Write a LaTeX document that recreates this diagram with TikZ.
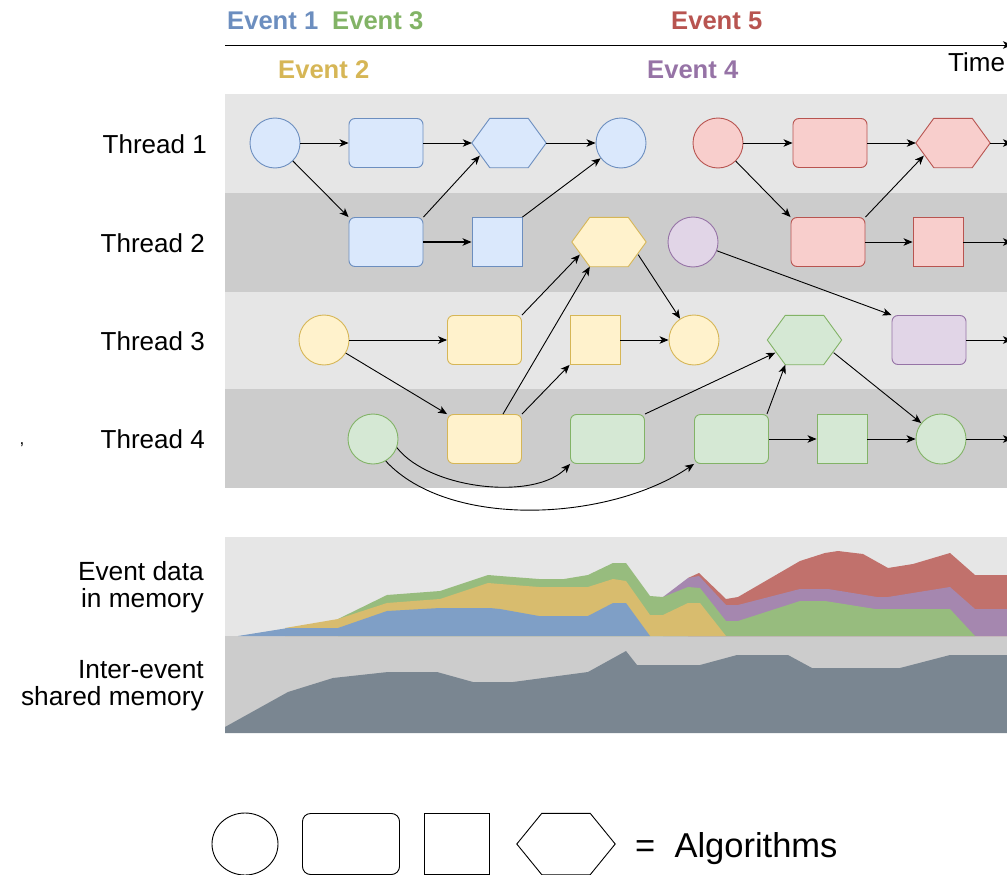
\documentclass[tikz,border=0pt]{standalone}
\usepackage{fontspec}
\setmainfont{Liberation Sans}
\usetikzlibrary{arrows.meta,shapes.geometric}
\definecolor{bfill}{HTML}{DAE8FC}\definecolor{bline}{HTML}{6C8EBF}
\definecolor{yfill}{HTML}{FFF2CC}\definecolor{yline}{HTML}{D6B656}
\definecolor{rfill}{HTML}{F8CECC}\definecolor{rline}{HTML}{B85450}
\definecolor{gfill}{HTML}{D5E8D4}\definecolor{gline}{HTML}{82B366}
\definecolor{pfill}{HTML}{E1D5E7}\definecolor{pline}{HTML}{9673A6}
\definecolor{bandA}{HTML}{E6E6E6}\definecolor{bandB}{HTML}{CCCCCC}
\definecolor{mblue}{HTML}{7F9FC6}\definecolor{myellow}{HTML}{D8BC6E}
\definecolor{mgreen}{HTML}{97BC7E}\definecolor{mpurple}{HTML}{A587AF}
\definecolor{mred}{HTML}{C1716C}\definecolor{mgray}{HTML}{7A8691}
\newcommand\hexout[3]{\filldraw[fill=#2,draw=#3,line width=0.9pt,line join=round] (#1.west) -- ([xshift=18pt]#1.north west) -- ([xshift=-18pt]#1.north east) -- (#1.east) -- ([xshift=-18pt]#1.south east) -- ([xshift=18pt]#1.south west) -- cycle;}
\tikzset{
  arr/.style={draw=black, line width=0.9pt, -{Stealth[length=9pt,width=7.5pt,inset=2.5pt]}},
  alg/.style={line width=0.9pt, inner sep=0pt},
  circ/.style={alg, circle, minimum size=50pt},
  rbox/.style={alg, rectangle, rounded corners=6pt, minimum width=74pt, minimum height=49pt},
  sbox/.style={alg, rectangle, minimum width=50pt, minimum height=49pt},
  hbox/.style={rectangle, inner sep=0pt, minimum width=74pt, minimum height=49pt},
  cA/.style={fill=bfill, draw=bline},
  cB/.style={fill=yfill, draw=yline},
  cC/.style={fill=gfill, draw=gline},
  cD/.style={fill=pfill, draw=pline},
  cE/.style={fill=rfill, draw=rline},
  lbl/.style={font=\fontsize{26}{28}\selectfont, inner sep=0pt},
  evl/.style={font=\fontsize{25.6}{28}\selectfont\bfseries, inner sep=0pt, anchor=base west},
  leg/.style={draw=black, line width=0.9pt, fill=white, inner sep=0pt},
}
\begin{document}
\begin{tikzpicture}[x=1pt,y=-1pt]
\useasboundingbox (0,0) rectangle (1007,875);
% time axis
\coordinate (t0) at (225,45);
\coordinate (t1) at (1012,45);
\draw[line width=0.9pt, -{Stealth[length=9pt,width=7.5pt,inset=2.5pt]}] (t0) -- (t1);
\node[evl, text=bline] (ev1) at (227,30) {Event 1};
\node[evl, text=gline] (ev3) at (332,30) {Event 3};
\node[evl, text=rline] (ev5) at (671,30) {Event 5};
\node[evl, text=yline] (ev2) at (278,79) {Event 2};
\node[evl, text=pline] (ev4) at (647,79) {Event 4};
\node[lbl, anchor=base west] (time) at (948,72) {Time};
% bands
\fill[bandA] (225,94) rectangle (1007,193);
\fill[bandB] (225,193) rectangle (1007,292);
\fill[bandA] (225,292) rectangle (1007,389);
\fill[bandB] (225,389) rectangle (1007,488);
\node[lbl, anchor=east] (th1) at (207,144) {Thread 1};
\node[lbl, anchor=east] (th2) at (205,243) {Thread 2};
\node[lbl, anchor=east] (th3) at (205,341) {Thread 3};
\node[lbl, anchor=east] (th4) at (205,439) {Thread 4};
\node[font=\fontsize{17}{17}\selectfont, inner sep=0pt, anchor=base] (cm) at (22,444) {,};
% thread 1
\node[circ,cA] (B1c) at (275,143) {};
\node[rbox,cA] (B1r) at (386,143) {};
\node[hbox] (B1h) at (509,143) {};
\node[circ,cA] (B1c2) at (621,143) {};
\node[circ,cE] (R1c) at (718,143) {};
\node[rbox,cE] (R1r) at (830,143) {};
\node[hbox] (R1h) at (953,143) {};
% thread 2
\node[rbox,cA] (B2r) at (386,242) {};
\node[sbox,cA] (B2s) at (497,242) {};
\node[hbox] (Y2h) at (609,242) {};
\node[circ,cD] (P2c) at (693,242) {};
\node[rbox,cE] (R2r) at (828,242) {};
\node[sbox,cE] (R2s) at (938,242) {};
% thread 3
\node[circ,cB] (Y3c) at (324,340) {};
\node[rbox,cB] (Y3r) at (484.5,340) {};
\node[sbox,cB] (Y3s) at (595,340) {};
\node[circ,cB] (Y3c2) at (694,340) {};
\node[hbox] (G3h) at (804.5,340) {};
\node[rbox,cD] (P3r) at (929,340) {};
% thread 4
\node[circ,cC] (G4c) at (373,439) {};
\node[rbox,cB] (Y4r) at (484.5,439) {};
\node[rbox,cC] (G4r) at (607.5,439) {};
\node[rbox,cC] (G4r2) at (731.5,439) {};
\node[sbox,cC] (G4s) at (842,439) {};
\node[circ,cC] (G4c2) at (941,439) {};
\hexout{B1h}{bfill}{bline}
\hexout{R1h}{rfill}{rline}
\hexout{Y2h}{yfill}{yline}
\hexout{G3h}{gfill}{gline}
\coordinate (e1) at (1012,143);
\coordinate (e2) at (1012,242);
\coordinate (e3) at (1012,340);
\coordinate (e4) at (1012,439);
% edges
\draw[arr] (B1c) -- (B1r);
\draw[arr] (B1r) -- (B1h.west);
\draw[arr] (B1h.east) -- (B1c2);
\draw[arr] (B1c) -- (B2r.north west);
\draw[arr, line width=1.3pt] (B2r) -- (B2s);
\draw[arr] (B2r.north east) -- ([xshift=8pt,yshift=12pt]B1h.south west);
\draw[arr] (B2s.north east) -- (B1c2);
\draw[arr] (R1c) -- (R1r);
\draw[arr] (R1r) -- (R1h.west);
\draw[arr] (R1h.east) -- (e1);
\draw[arr] (R1c) -- (R2r.north west);
\draw[arr] (R2r.north east) -- ([xshift=8pt,yshift=12pt]R1h.south west);
\draw[arr] (R2r) -- (R2s);
\draw[arr] (R2s) -- (e2);
\draw[arr] (Y3c) -- (Y3r);
\draw[arr] (Y3c) -- (Y4r.north west);
\draw[arr] (Y3r.north east) -- ([xshift=8pt,yshift=12pt]Y2h.south west);
\draw[arr] ([xshift=18.5pt]Y4r.north) -- ([xshift=18pt]Y2h.south west);
\draw[arr] (Y4r.north east) -- (Y3s.south west);
\draw[arr] ([xshift=-8pt,yshift=12pt]Y2h.south east) -- (Y3c2);
\draw[arr] (Y3s) -- (Y3c2);
\draw[arr] (P2c) -- (P3r.north west);
\draw[arr] (P3r) -- (e3);
\draw[arr] (G4c.-20) .. controls +(33,42) and +(-35,37) .. (G4r.south west);
\draw[arr] (G4c.-60) .. controls +(64,69) and +(-84,57) .. (G4r2.south west);
\draw[arr] (G4r.north east) -- ([xshift=8pt,yshift=12pt]G3h.south west);
\draw[arr] ([xshift=-2pt]G4r2.north east) -- ([xshift=18pt]G3h.south west);
\draw[arr] (G4r2) -- (G4s);
\draw[arr] (G4s) -- (G4c2);
\draw[arr] ([xshift=-8pt,yshift=12pt]G3h.south east) -- (G4c2);
\draw[arr] (G4c2) -- (e4);
% memory
\fill[bandA] (225,537) rectangle (1007,636);
\fill[bandB] (225,636) rectangle (1007,733);
\fill[mred] (688,636) -- (688,578) -- (699,573) -- (726,599) -- (738,597) -- (800,561) -- (825,553) -- (838,551) -- (863,554) -- (888,568) -- (913,564) -- (950,553) -- (975,575) -- (1007,575) -- (1007,636) -- cycle;
\fill[mpurple] (663,636) -- (663,597) -- (688,578) -- (699,576) -- (726,605) -- (738,605) -- (800,589) -- (828,589) -- (877,597) -- (888,597) -- (950,587) -- (975,609) -- (1007,609) -- (1007,636) -- cycle;
\fill[mgreen] (338,636) -- (338,619) -- (387,595) -- (440,591) -- (488,575) -- (500,576) -- (539,579) -- (564,579) -- (588,575) -- (613,563) -- (626,563) -- (650,596) -- (663,597) -- (688,587) -- (700,588) -- (726,621) -- (738,621) -- (800,601) -- (825,601) -- (875,609) -- (950,609) -- (975,636) -- cycle;
\fill[myellow] (285,636) -- (285,628) -- (338,619) -- (387,603) -- (440,599) -- (488,583) -- (500,584) -- (539,587) -- (588,587) -- (613,579) -- (626,581) -- (650,615) -- (663,615) -- (688,603) -- (700,603) -- (726,636) -- cycle;
\fill[mblue] (238,636) -- (288,628) -- (338,628) -- (387,611) -- (440,608) -- (490,608) -- (500,609) -- (539,616) -- (588,616) -- (613,603) -- (626,603) -- (650,636) -- cycle;
\fill[mgray] (225,733) -- (225,727) -- (288,692) -- (333,678) -- (388,672) -- (437,672) -- (473,682) -- (513,682) -- (588,672) -- (626,651) -- (637,665) -- (700,665) -- (737,655) -- (788,655) -- (812,668) -- (900,668) -- (950,655) -- (1007,655) -- (1007,733) -- cycle;
\node[lbl, anchor=east, align=right, font=\fontsize{26.3}{27}\selectfont] (mem1) at (204,587) {Event data\\in memory};
\node[lbl, anchor=east, align=right, font=\fontsize{26.3}{27}\selectfont] (mem2) at (204,686) {Inter-event\\shared memory};
% legend
\node[leg, ellipse, minimum width=66pt, minimum height=62pt] (L1) at (245,844) {};
\node[leg, rectangle, rounded corners=8pt, minimum width=97pt, minimum height=61pt] (L2) at (351,844) {};
\node[leg, rectangle, minimum width=65pt, minimum height=61pt] (L3) at (457,844) {};
\node[rectangle, inner sep=0pt, minimum width=98pt, minimum height=61pt] (L4) at (566,844) {};
\draw[line width=0.9pt] (L4.west) -- ([xshift=25pt]L4.north west) -- ([xshift=-25pt]L4.north east) -- (L4.east) -- ([xshift=-25pt]L4.south east) -- ([xshift=25pt]L4.south west) -- cycle;
\node[font=\fontsize{34.5}{36}\selectfont, inner sep=0pt, anchor=base west] (alg) at (635,857) {=\ \ Algorithms};
\end{tikzpicture}
\end{document}
